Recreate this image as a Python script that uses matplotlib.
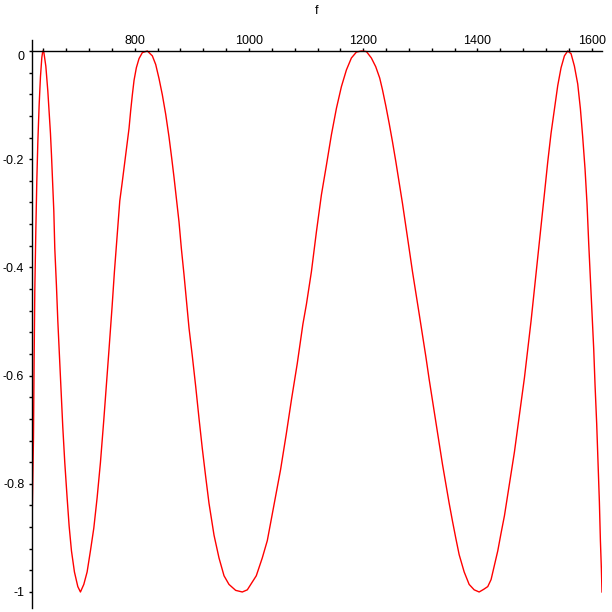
import matplotlib
matplotlib.use("Agg")
import matplotlib.pyplot as plt

# curve (x, f)
f_x = [620.0, 622.6, 623.7, 624.9, 626.7, 628.4, 630.2, 632.5, 634.8, 637.2,
       638.9, 640.7, 644.2, 647.7, 650.0, 652.3, 654.1, 655.8, 658.2, 659.9,
       662.8, 665.2, 668.1, 671.0, 673.9, 677.4, 681.5, 685.0, 689.1, 694.3,
       700.2, 704.8, 710.7, 716.5, 722.3, 728.2, 734.0, 739.8, 745.7, 750.3,
       754.4, 760.2, 764.3, 769.0, 773.7, 777.7, 783.0, 787.0, 789.9, 792.8,
       795.7, 798.7, 802.7, 807.4, 813.2, 822.0, 830.7, 836.6, 842.4, 848.2,
       854.1, 859.9, 864.6, 868.7, 873.3, 877.4, 881.5, 886.2, 890.8, 894.9,
       900.7, 906.6, 912.4, 918.2, 924.1, 929.9, 938.7, 947.4, 956.2, 964.9,
       976.6, 988.2, 997.0, 1012.7, 1023.2, 1032.0, 1043.6, 1055.2, 1065.2, 1074.5,
       1084.4, 1094.3, 1100.5, 1109.2, 1118.0, 1126.7, 1135.5, 1144.2, 1153.0, 1161.7,
       1170.5, 1179.2, 1188.0, 1197.0, 1205.5, 1214.2, 1221.8, 1228.8, 1233.7, 1239.6,
       1245.4, 1251.2, 1257.1, 1262.9, 1268.7, 1274.6, 1280.4, 1286.2, 1292.1, 1297.9,
       1303.7, 1309.6, 1315.4, 1321.2, 1327.1, 1332.9, 1338.7, 1344.6, 1350.4, 1356.2,
       1362.1, 1367.9, 1376.7, 1385.4, 1394.2, 1402.9, 1411.0, 1418.0, 1423.8, 1429.7,
       1435.5, 1441.3, 1447.2, 1453.0, 1458.8, 1464.7, 1470.5, 1476.3, 1482.2, 1488.0,
       1493.8, 1499.7, 1505.5, 1511.3, 1517.2, 1523.0, 1528.8, 1534.7, 1540.5, 1546.3,
       1552.2, 1558.0, 1563.8, 1569.7, 1575.5, 1580.2, 1584.2, 1588.3, 1591.8, 1594.7,
       1597.7, 1600.6, 1603.5, 1605.8, 1608.7, 1611.1, 1613.4, 1615.2, 1616.9, 1618.0]
f_y = [-0.880, -0.715, -0.571, -0.443, -0.332, -0.241, -0.169, -0.100, -0.048, -0.012,
       0.0, -0.002, -0.028, -0.074, -0.113, -0.152, -0.192, -0.237, -0.296, -0.365,
       -0.434, -0.499, -0.564, -0.627, -0.695, -0.761, -0.826, -0.878, -0.924, -0.963,
       -0.990, -1.0, -0.986, -0.963, -0.924, -0.882, -0.826, -0.761, -0.682, -0.617,
       -0.558, -0.473, -0.408, -0.342, -0.277, -0.245, -0.200, -0.165, -0.143, -0.110,
       -0.081, -0.054, -0.031, -0.014, -0.003, 0.0, -0.009, -0.025, -0.051, -0.081,
       -0.117, -0.159, -0.198, -0.234, -0.277, -0.316, -0.365, -0.414, -0.466, -0.512,
       -0.564, -0.620, -0.679, -0.735, -0.787, -0.836, -0.895, -0.937, -0.970, -0.986,
       -0.997, -1.0, -0.996, -0.970, -0.937, -0.905, -0.839, -0.774, -0.708, -0.643,
       -0.578, -0.505, -0.468, -0.408, -0.334, -0.266, -0.211, -0.155, -0.106, -0.066,
       -0.035, -0.013, -0.002, 0.0, -0.001, -0.013, -0.029, -0.050, -0.072, -0.102,
       -0.134, -0.168, -0.205, -0.243, -0.282, -0.324, -0.366, -0.408, -0.447, -0.486,
       -0.525, -0.565, -0.607, -0.646, -0.685, -0.725, -0.764, -0.800, -0.836, -0.869,
       -0.901, -0.931, -0.963, -0.986, -0.996, -1.0, -0.995, -0.990, -0.977, -0.950,
       -0.924, -0.891, -0.859, -0.820, -0.780, -0.741, -0.695, -0.650, -0.604, -0.551,
       -0.499, -0.440, -0.381, -0.323, -0.264, -0.205, -0.152, -0.107, -0.064, -0.031,
       -0.009, 0.0, -0.005, -0.028, -0.061, -0.107, -0.159, -0.218, -0.283, -0.355,
       -0.421, -0.486, -0.551, -0.617, -0.689, -0.761, -0.833, -0.905, -0.957, -1.0]

x_ticks = [800, 1000, 1200, 1400, 1600]
x_tick_labels = ["800", "1000", "1200", "1400", "1600"]
y_ticks = [0, -0.2, -0.4, -0.6, -0.8, -1]
y_tick_labels = ["0", "-0.2", "-0.4", "-0.6", "-0.8", "-1"]

plt.rcParams["font.family"] = ["Liberation Sans", "DejaVu Sans"]

fig = plt.figure(figsize=(6.12, 6.12), dpi=100)
ax = fig.add_axes([32 / 612, 4 / 612, 570 / 612, 568 / 612])

ax.plot(f_x, f_y, color="red", linewidth=1.0)

ax.set_xlim(620, 1618)
ax.set_ylim(-1.0296, 0.0203)

# Maple style axes: x axis along f = 0, y axis on the left edge
ax.spines["top"].set_position(("data", 0))
ax.spines["bottom"].set_visible(False)
ax.spines["right"].set_visible(False)
for s in ("top", "left"):
    ax.spines[s].set_linewidth(1.0)

ax.xaxis.set_ticks_position("top")
ax.set_xticks(x_ticks)
ax.set_xticklabels(x_tick_labels)
ax.set_xticks(range(640, 1618, 40), minor=True)
ax.set_yticks(y_ticks)
ax.set_yticklabels(y_tick_labels)
ax.set_yticks([-0.04 * i for i in range(26)], minor=True)

ax.tick_params(axis="x", which="both", direction="out", length=2, width=1,
               pad=1, labelsize=9)
ax.tick_params(axis="y", which="both", direction="out", length=2, width=1,
               pad=3.5, labelsize=9)

for lbl in ax.get_yticklabels():
    if lbl.get_text() == "0":
        lbl.set_verticalalignment("top")

fig.text(317 / 612, 1 - 11 / 612, "f", ha="center", va="center", fontsize=9)

fig.savefig("out.png", dpi=100)
